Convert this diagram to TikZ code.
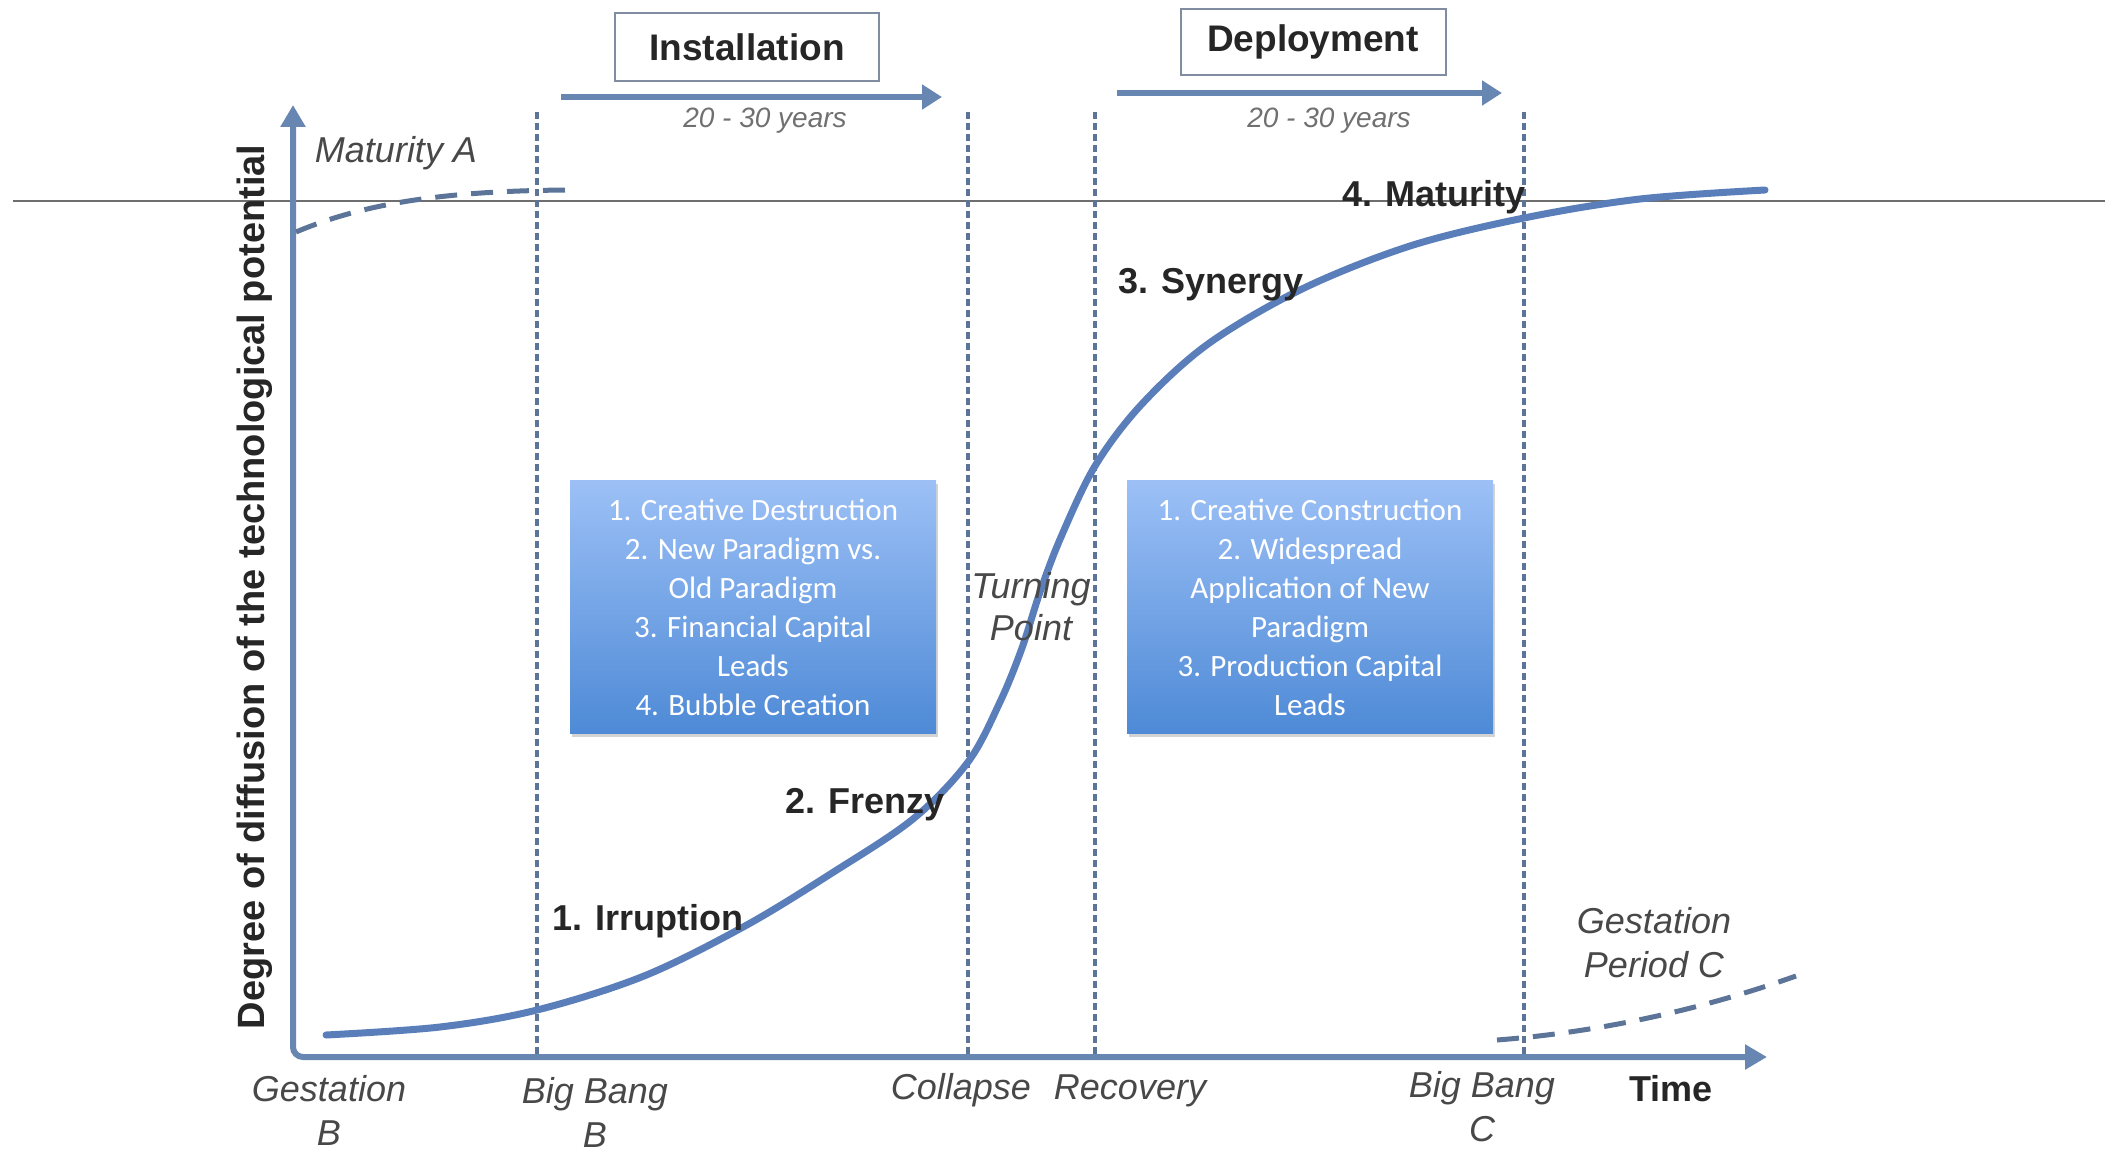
\documentclass[tikz,border=0pt]{standalone}
\usepackage{fontspec}
\setmainfont{Liberation Sans}
\newfontfamily\boxfont{Carlito}
\usetikzlibrary{arrows.meta,shadows}
\definecolor{axisc}{RGB}{104,134,178}
\definecolor{curvec}{RGB}{90,126,186}
\definecolor{dashc}{RGB}{92,116,152}
\definecolor{boxtop}{RGB}{156,192,246}
\definecolor{boxbot}{RGB}{78,138,214}
\definecolor{itc}{RGB}{72,72,72}
\definecolor{yrc}{RGB}{112,112,112}
\definecolor{framec}{RGB}{128,140,160}
\definecolor{rulec}{RGB}{110,110,110}
\begin{document}
\begin{tikzpicture}[x=1pt,y=-1pt,
  lab/.style={font=\fontsize{36}{44}\selectfont\itshape, text=itc, align=center, inner sep=0},
  stage/.style={font=\fontsize{36}{40}\selectfont\bfseries, text=black!85, inner sep=0},
  phase/.style={draw=framec, line width=2, fill=white, minimum width=264, minimum height=68, inner sep=0, font=\fontsize{37}{40}\selectfont\bfseries, text=black!85},
  years/.style={font=\fontsize{28}{32}\selectfont\itshape, text=yrc, inner sep=0},
  infobox/.style={top color=boxtop, bottom color=boxbot, draw=none, minimum width=366, minimum height=253, inner sep=0,
     drop shadow={shadow xshift=2pt, shadow yshift=-3pt, opacity=.35}, text=white, align=center,
     font=\boxfont\fontsize{31}{39}\selectfont},
  vdash/.style={dashc, line width=3.5, dash pattern=on 7 off 4},
  phasearrow/.style={axisc, line width=6.5, -{Triangle[length=20,width=24]}},
  softdash/.style={dashc, line width=5, dash pattern=on 22 off 14},
]
\useasboundingbox (0,0) rectangle (2105,1153);

% thin horizontal rule across the picture
\coordinate (ruleL) at (13,201);
\coordinate (ruleR) at (2105,201);
\draw[rulec, line width=1.5] (ruleL) -- (ruleR);

% vertical dashed separators
\foreach \n/\x in {bbB/537, col/968, rec/1095, bbC/1524}{
  \coordinate (\n top) at (\x,112);
  \coordinate (\n bot) at (\x,1054);
  \draw[vdash] (\n top) -- (\n bot);
}

% axes
\coordinate (ytip) at (293,105);
\coordinate (origin) at (293,1057);
\coordinate (xtip) at (1767,1057);
\draw[axisc, line width=6, rounded corners=10, {Triangle[length=22,width=24]}-{Triangle[length=22,width=24]}]
  (ytip) -- (origin) -- (xtip);

% maturity A dashed
\coordinate (matA1) at (296,232);
\coordinate (matA2) at (578,190);
\draw[softdash] (matA1) .. controls (360,205) and (440,190) .. (matA2);

% gestation C dashed
\coordinate (gesC1) at (1497,1040);
\coordinate (gesC2) at (1796,976);
\draw[softdash] (gesC1) .. controls (1600,1032) and (1700,1010) .. (gesC2);

% S curve
\draw[curvec, line width=7, line cap=round] plot[smooth, tension=0.55] coordinates {
 (326,1035) (440,1027) (537,1010) (644,976) (745,926) (832,873) (913,819)
 (968,762) (1000,702) (1022,648) (1040,592) (1061,537) (1095,466) (1141,405)
 (1208,344) (1302,289) (1410,246) (1524,218) (1640,199) (1765,190)};

% phase boxes and arrows
\node[phase] (inst) at (747,47) {Installation};
\node[phase, minimum width=265, minimum height=66] (depl) at (1313,42) {Deployment};
\coordinate (ia1) at (561,97);
\coordinate (ia2) at (942,97);
\draw[phasearrow] (ia1) -- (ia2);
\coordinate (da1) at (1117,93);
\coordinate (da2) at (1502,93);
\draw[phasearrow] (da1) -- (da2);
\node[years] (y1) at (765,121) {20 - 30 years};
\node[years] (y2) at (1329,121) {20 - 30 years};

% info boxes
\node[infobox] (left) at (753,607) {1. Creative Destruction\\2. New Paradigm vs.\\Old Paradigm\\3. Financial Capital\\Leads\\4. Bubble Creation};
\node[infobox] (right) at (1310,607) {1. Creative Construction\\2. Widespread\\Application of New\\Paradigm\\3. Production Capital\\Leads};

% y label
\node[rotate=90, font=\fontsize{38}{40}\selectfont\bfseries, text=black!85, inner sep=0] (ylab) at (255,587)
  {Degree of diffusion of the technological potential};

% stage labels
\node[stage] (s1) at (648,921) {1. Irruption};
\node[stage] (s2) at (865,805) {2. Frenzy};
\node[stage] (s3) at (1211,285) {3. Synergy};
\node[stage] (s4) at (1434,197) {4. Maturity};

% italic labels
\node[lab] (matA) at (396,153) {Maturity A};
\node[lab, font=\fontsize{36}{42}\selectfont\itshape] (turn) at (1031,607) {Turning\\Point};
\node[lab] (gesB) at (329,1110) {Gestation\\B};
\node[lab] (bbB) at (595,1112) {Big Bang\\B};
\node[lab] (colL) at (961,1090) {Collapse};
\node[lab] (recL) at (1130,1091) {Recovery};
\node[lab] (bbCL) at (1482,1107) {Big Bang\\C};
\node[lab] (gesCL) at (1654,943) {Gestation\\Period C};
\node[stage] (time) at (1671,1089) {Time};
\end{tikzpicture}
\end{document}
